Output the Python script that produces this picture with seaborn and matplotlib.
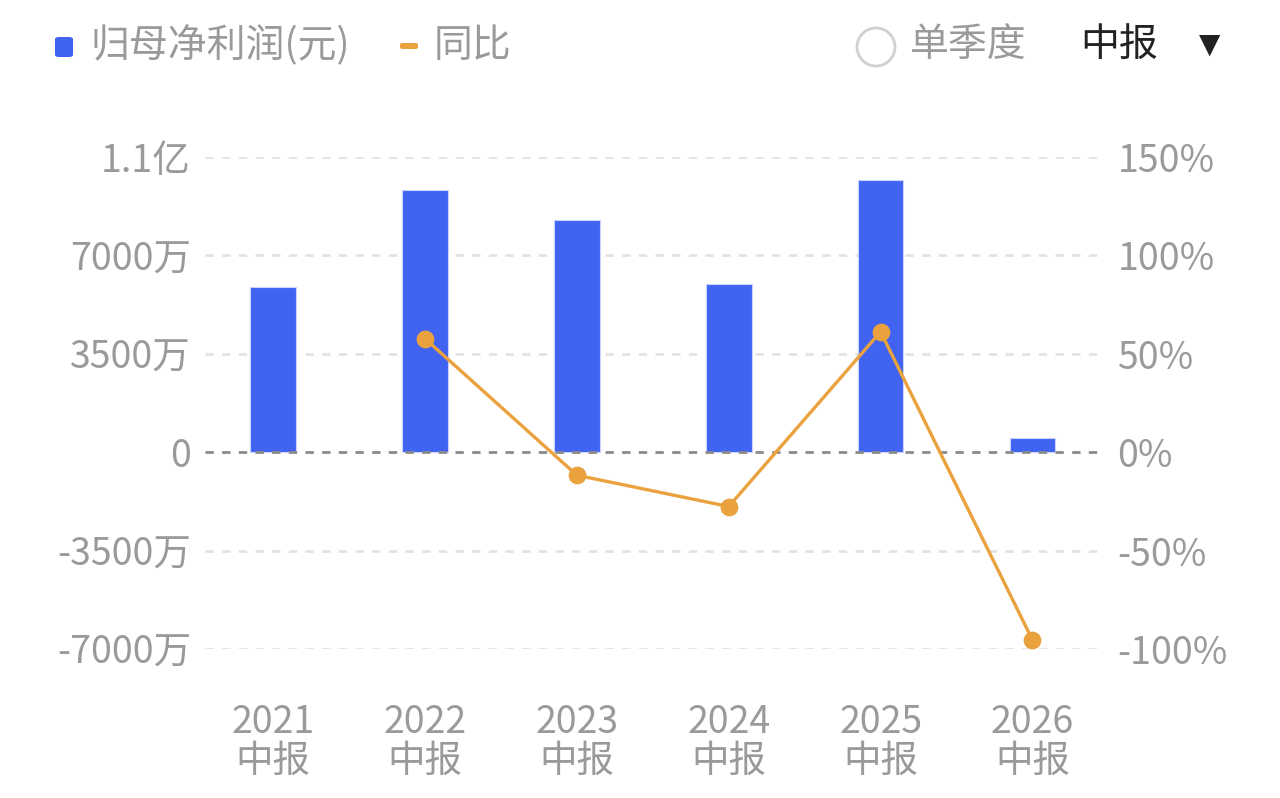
import numpy as np
import pandas as pd
import seaborn as sns
import matplotlib.pyplot as plt
from matplotlib.patches import FancyBboxPatch, Circle
from matplotlib.transforms import IdentityTransform

# data
periods = ["2021\n中报", "2022\n中报", "2023\n中报", "2024\n中报", "2025\n中报", "2026\n中报"]
profit_wan = [5890, 9320, 8250, 6000, 9680, 500]       # 归母净利润, 万元
yoy_pct = [np.nan, 57.7, -11.7, -27.6, 61.2, -95.4]     # 同比, %

left_ticks = [-7000, -3500, 0, 3500, 7000, 10500]
left_labels = ["-7000万", "-3500万", "0", "3500万", "7000万", "1.1亿"]
right_ticks = [-100, -50, 0, 50, 100, 150]
right_labels = ["-100%", "-50%", "0%", "50%", "100%", "150%"]

BLUE = "#4063F2"
ORANGE = "#E9A23E"
GRAY = "#9a9a9a"

sns.set_style("white")
plt.rcParams['font.family'] = ['Noto Sans CJK SC', 'DejaVu Sans']

df = pd.DataFrame({"period": periods, "profit": profit_wan, "yoy": yoy_pct})

W, H = 1280, 798
fig = plt.figure(figsize=(12.8, 7.98), dpi=100)
ax = fig.add_axes([0.160, 1 - 649 / H, 0.700, (649 - 157) / H])

sns.barplot(data=df, x="period", y="profit", order=periods, color=BLUE,
            width=0.3, saturation=1, edgecolor="#c9d3fb", linewidth=0.8, ax=ax)

ax.set_ylim(-7000, 10500)
ax.set_yticks(left_ticks)
ax.set_yticklabels(left_labels)
for t in left_ticks:
    if t == 0:
        ax.axhline(t, color="#8a8a8a", lw=2, ls=(0, (3, 3)), zorder=3)
    else:
        ax.axhline(t, color="#e3e3e3", lw=2, ls=(0, (3, 3)), zorder=0)

ax2 = ax.twinx()
sns.pointplot(data=df.dropna(), x="period", y="yoy", order=periods, color=ORANGE,
              markers="o", markersize=11, linewidth=2.4, ax=ax2)
ax2.set_ylim(-100, 150)
ax2.set_yticks(right_ticks)
ax2.set_yticklabels(right_labels)

for a in (ax, ax2):
    a.set_xlim(-0.45, 5.45)
    for s in a.spines.values():
        s.set_visible(False)
    a.set_xlabel("")
    a.set_ylabel("")
    a.tick_params(axis="both", length=0, labelsize=27, labelcolor=GRAY)

ax.tick_params(axis="y", pad=10)
ax2.tick_params(axis="y", pad=12)
ax.tick_params(axis="x", pad=39)
for lbl in ax.get_xticklabels():
    lbl.set_linespacing(1.0)

# legend row at the top
fig.patches.append(FancyBboxPatch((55 / W, 1 - 57 / H), 18 / W, 20 / H,
                                  boxstyle="round,pad=0,rounding_size=0.003",
                                  transform=fig.transFigure, color=BLUE, lw=0))
fig.text(90 / W, 1 - 46 / H, "归母净利润(元)", fontsize=28, color=GRAY, va="center")
fig.patches.append(FancyBboxPatch((400 / W, 1 - 49 / H), 18 / W, 6 / H,
                                  boxstyle="round,pad=0,rounding_size=0.002",
                                  transform=fig.transFigure, color=ORANGE, lw=0))
fig.text(434 / W, 1 - 46 / H, "同比", fontsize=28, color=GRAY, va="center")
fig.patches.append(Circle((876, H - 47), 19, transform=IdentityTransform(),
                          fill=False, ec="#d0d0d0", lw=2))
fig.text(910 / W, 1 - 46 / H, "单季度", fontsize=28, color=GRAY, va="center")
fig.text(1080 / W, 1 - 46 / H, "中报", fontsize=28, color="#222222", va="center")
fig.text(1210 / W, 1 - 45 / H, "▼", fontsize=20, color="#222222", va="center", ha="center",
         family=['DejaVu Sans'])

fig.savefig("out.png", dpi=100)
